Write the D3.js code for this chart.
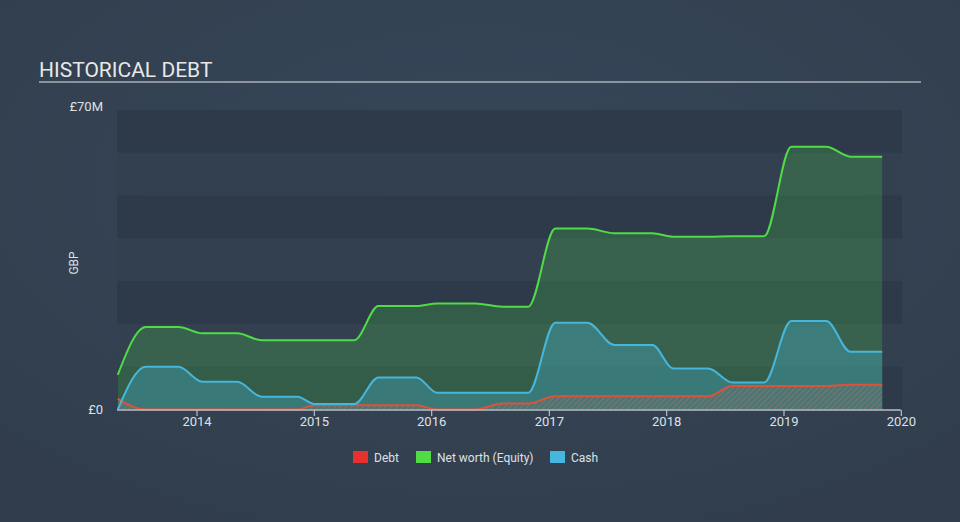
<!DOCTYPE html>
<html>
<head>
<meta charset="utf-8">
<script src="https://cdn.jsdelivr.net/npm/d3@7"></script>
<style>
  html, body { margin: 0; padding: 0; background: #344252; }
  svg { display: block; font-family: Roboto, "Open Sans", sans-serif; }
</style>
</head>
<body>
<svg id="chart" width="960" height="522"></svg>
<script>
const dates = ["2013-05-01","2013-07-27","2013-11-06","2014-01-19","2014-05-08","2014-07-22","2014-11-11",
  "2015-01-03","2015-05-07","2015-07-21","2015-11-16","2016-01-20","2016-05-17","2016-08-09","2016-10-29",
  "2017-01-21","2017-05-01","2017-07-24","2017-11-19","2018-01-23","2018-05-12","2018-07-26","2018-11-02",
  "2019-01-25","2019-05-14","2019-07-28","2019-11-04"];
const netWorth = [8.1,19.3,19.3,17.8,17.8,16.2,16.2,16.2,16.2,24.2,24.2,24.8,24.8,24.0,24.0,
  42.3,42.3,41.2,41.2,40.4,40.4,40.5,40.5,61.4,61.4,59.1,59.1];
const cash = [0,10.0,10.0,6.5,6.5,3.0,3.0,1.3,1.3,7.5,7.5,3.9,3.9,3.9,3.9,
  20.3,20.3,15.1,15.1,9.6,9.6,6.3,6.3,20.7,20.7,13.5,13.5];
const debt = [2.5,0,0,0,0,0,0,1.0,1.0,1.0,1.0,0,0,1.4,1.4,
  3.1,3.1,3.1,3.1,3.1,3.1,5.5,5.5,5.5,5.5,5.8,5.8];
const yTickLabels = ["£0","£70M"];
const yTickValues = [0,70];
const xTickYears = [2014,2015,2016,2017,2018,2019,2020];
const legendItems = ["Debt","Net worth (Equity)","Cash"];

const parse = d3.timeParse("%Y-%m-%d");
const data = dates.map((d,i)=>({date: parse(d), nw: netWorth[i], cash: cash[i], debt: debt[i]}));

const svg = d3.select("#chart");
const W = 960, H = 522;

// background
const defs = svg.append("defs");
const rg = defs.append("radialGradient").attr("id","bg").attr("cx","50%").attr("cy","35%").attr("r","75%");
rg.append("stop").attr("offset","0%").attr("stop-color","#36475a");
rg.append("stop").attr("offset","100%").attr("stop-color","#313d4c");
svg.append("rect").attr("width",W).attr("height",H).attr("fill","url(#bg)");

const pat = defs.append("pattern").attr("id","hatch").attr("patternUnits","userSpaceOnUse")
  .attr("width",4).attr("height",4).attr("patternTransform","rotate(45)");
pat.append("rect").attr("width",4).attr("height",4).attr("fill","rgba(120,110,110,0.3)");
pat.append("line").attr("x1",0).attr("y1",0).attr("x2",0).attr("y2",4)
  .attr("stroke","rgba(200,120,105,0.5)").attr("stroke-width",1.5);

// title
svg.append("text").attr("x",39).attr("y",77).attr("fill","#e8e8e8")
  .attr("font-size",21).text("HISTORICAL DEBT");
svg.append("line").attr("x1",39).attr("x2",921).attr("y1",82).attr("y2",82)
  .attr("stroke","#aab0b8").attr("stroke-width",1.5);

const x = d3.scaleTime()
  .domain([new Date(2014,0,1), new Date(2019,0,1)])
  .range([196.5, 783.5]);
const y = d3.scaleLinear().domain([0,70]).range([409.5,110]);

const plotLeft = 117, plotRight = 902;

// bands
for (let i = 0; i < 7; i++) {
  svg.append("rect").attr("x",plotLeft).attr("width",plotRight-plotLeft)
    .attr("y", y(70 - i*10)).attr("height", y(60 - i*10) - y(70 - i*10))
    .attr("fill", i % 2 === 0 ? "#2e3a4a" : "#324050");
}

const curve = d3.curveMonotoneX;
const areaNW = d3.area().x(d=>x(d.date)).y0(y(0)).y1(d=>y(d.nw)).curve(curve);
const areaCash = d3.area().x(d=>x(d.date)).y0(y(0)).y1(d=>y(d.cash)).curve(curve);
const areaDebt = d3.area().x(d=>x(d.date)).y0(y(0)).y1(d=>y(d.debt)).curve(curve);
const lineNW = d3.line().x(d=>x(d.date)).y(d=>y(d.nw)).curve(curve);
const lineCash = d3.line().x(d=>x(d.date)).y(d=>y(d.cash)).curve(curve);
const lineDebt = d3.line().x(d=>x(d.date)).y(d=>y(d.debt)).curve(curve);

svg.append("path").datum(data).attr("d",areaNW).attr("fill","rgba(76,220,71,0.22)");
svg.append("path").datum(data).attr("d",areaCash).attr("fill","rgba(69,181,217,0.32)");
svg.append("path").datum(data).attr("d",areaDebt).attr("fill","url(#hatch)");
svg.append("path").datum(data).attr("d",lineDebt).attr("fill","none").attr("stroke","#e0513a").attr("stroke-width",2);
svg.append("path").datum(data).attr("d",lineCash).attr("fill","none").attr("stroke","#47b6dc").attr("stroke-width",2);
svg.append("path").datum(data).attr("d",lineNW).attr("fill","none").attr("stroke","#4fdc46").attr("stroke-width",2);

// x axis
const xAxis = d3.axisBottom(x)
  .tickValues(xTickYears.map(yr=>new Date(yr,0,1)))
  .tickFormat(d3.timeFormat("%Y"))
  .tickSize(6).tickSizeOuter(0);
const gx = svg.append("g").attr("transform",`translate(0,${y(0)+0.5})`).call(xAxis);
gx.select(".domain").remove();
gx.append("line").attr("x1",plotLeft).attr("x2",x(new Date(2020,0,1))).attr("y1",0).attr("y2",0)
  .attr("stroke","#b8bec6").attr("stroke-width",1.5);
gx.selectAll(".tick line").attr("stroke","#b8bec6").attr("stroke-width",1.2).attr("y1",0).attr("y2",6);
gx.selectAll(".tick text").attr("fill","#dde1e6").attr("font-size",13).attr("dy","0.5em")
  .attr("font-family","Roboto, sans-serif");

// y labels
const yAxis = d3.axisLeft(y).tickValues(yTickValues)
  .tickFormat((d,i)=>yTickLabels[i]).tickSize(0);
const gy = svg.append("g").attr("transform",`translate(103,0)`).call(yAxis);
gy.select(".domain").remove();
gy.selectAll(".tick text").attr("fill","#dde1e6").attr("font-size",13).attr("x",0)
  .attr("font-family","Roboto, sans-serif");
gy.selectAll(".tick").filter(d=>d===70).select("text").attr("dy","0.0em");
gy.selectAll(".tick").filter(d=>d===0).select("text").attr("dy","0.3em");

svg.append("text").attr("transform","translate(78,263) rotate(-90)").attr("text-anchor","middle")
  .attr("fill","#dde1e6").attr("font-size",12).text("GBP");

// legend
const legColors = ["#e8302e","#4fdc46","#47b6dc"];
const legX = [353, 416, 550];
legendItems.forEach((t,i)=>{
  svg.append("rect").attr("x",legX[i]).attr("y",451).attr("width",15).attr("height",12).attr("fill",legColors[i]);
  svg.append("text").attr("x",legX[i]+21).attr("y",461.5).attr("fill","#dde1e6").attr("font-size",12).text(t);
});
</script>
</body>
</html>
